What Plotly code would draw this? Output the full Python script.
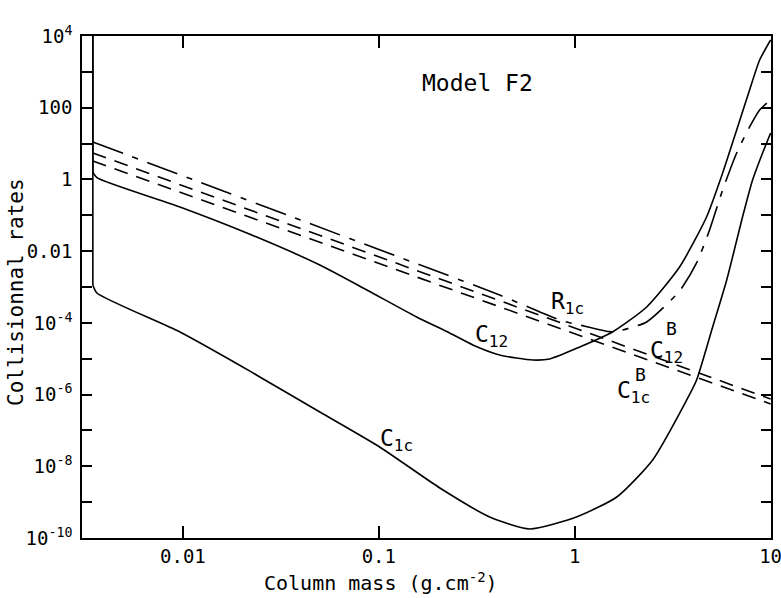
import plotly.graph_objects as go

# ---------------- data ----------------
# Column mass (g cm^-2) and collisional / radiative rates
x_c1c = [0.00347, 0.00347, 0.00364, 0.00966, 0.0202, 0.0247, 0.0500, 0.101, 0.205,
         0.368, 0.589, 1.02, 1.64, 2.50, 3.73, 4.19, 5.06, 5.97, 7.19, 8.09, 9.10, 10.0]
y_c1c = [1e4, 1.14e-3, 6.81e-4, 5.57e-5, 5.89e-6, 3.10e-6, 3.27e-7, 3.46e-8, 2.48e-9,
         3.86e-10, 1.79e-10, 3.86e-10, 1.39e-9, 1.50e-8, 7.06e-7, 2.55e-6, 7.67e-5,
         1.57e-3, 8.97e-2, 0.964, 5.46, 19.7]

x_c12 = [0.00347, 0.00347, 0.00364, 0.00966, 0.0212, 0.0500, 0.0869, 0.156, 0.230,
         0.302, 0.414, 0.611, 0.745, 1.06, 1.56, 2.33, 3.43, 4.71, 5.69, 6.71, 7.81,
         8.79, 10.0]
y_c12 = [1e4, 1.6, 1.12, 0.170, 0.0321, 4.11e-3, 8.26e-4, 1.46e-4, 5.22e-5, 2.42e-5,
         1.27e-5, 9.22e-6, 9.84e-6, 2.12e-5, 5.57e-5, 2.77e-4, 3.61e-3, 8.97e-2, 1.51,
         23.9, 312, 2.14e3, 7.74e3]

x_r1c = [0.00347, 0.0122, 0.0395, 0.128, 0.414, 0.838, 1.06, 1.56, 1.91, 2.33, 3.43,
         4.19, 4.88, 5.69, 6.71, 7.81, 8.79, 10.0]
y_r1c = [11.1, 0.838, 0.0748, 6.70e-3, 5.98e-4, 1.20e-4, 8.72e-5, 5.57e-5, 7.20e-5,
         1.06e-4, 7.74e-4, 4.68e-3, 3.89e-2, 0.508, 5.46, 29.0, 86.3, 164]

x_c12b = [0.00347, 0.0395, 0.414, 10.0]
y_c12b = [5.46, 0.0437, 4.1e-4, 7.5e-7]

x_c1cb = [0.00347, 0.0395, 0.414, 10.0]
y_c1cb = [3.27, 0.0277, 2.75e-4, 5.5e-7]

x_tickvals = [0.01, 0.1, 1, 10]
x_ticktext = ["0.01", "0.1", "1", "10"]
y_exponents = list(range(-10, 5))
y_labels = {4: "10<sup>4</sup>", 2: "100", 0: "1", -2: "0.01", -4: "10<sup>-4</sup>",
            -6: "10<sup>-6</sup>", -8: "10<sup>-8</sup>", -10: "10<sup>-10</sup>"}

# ---------------- figure ----------------
W, H = 781, 598
L, R, T, B = 82, 10, 36, 60
FONT = "DejaVu Sans Mono"

fig = go.Figure()
lw = 1.6
solid_lin = dict(color="black", width=lw)
solid_spl = dict(color="black", width=lw, shape="spline", smoothing=0.6)

# vertical starts of C1c and C12 (straight), then the smooth curves
fig.add_trace(go.Scatter(x=x_c1c[:2], y=y_c1c[:2], mode="lines", line=solid_lin))
fig.add_trace(go.Scatter(x=x_c1c[1:], y=y_c1c[1:], mode="lines", line=solid_spl))
fig.add_trace(go.Scatter(x=x_c12[:2], y=y_c12[:2], mode="lines", line=solid_lin))
fig.add_trace(go.Scatter(x=x_c12[1:], y=y_c12[1:], mode="lines", line=solid_spl))
fig.add_trace(go.Scatter(x=x_r1c, y=y_r1c, mode="lines",
                         line=dict(color="black", width=lw, dash="32px,10px,6px,10px",
                                   shape="spline", smoothing=0.6)))
fig.add_trace(go.Scatter(x=x_c12b, y=y_c12b, mode="lines",
                         line=dict(color="black", width=lw, dash="14px,9px")))
fig.add_trace(go.Scatter(x=x_c1cb, y=y_c1cb, mode="lines",
                         line=dict(color="black", width=lw, dash="14px,9px")))


def px2paper(px, py):
    return (px - L) / (W - L - R), (H - B - py) / (H - T - B)


def label(text, px, py, xanchor="left", size=23, angle=0):
    xp, yp = px2paper(px, py)
    fig.add_annotation(text=text, x=xp, y=yp, xref="paper", yref="paper",
                       xanchor=xanchor, yanchor="middle", showarrow=False,
                       textangle=angle, font=dict(family=FONT, size=size, color="black"))


label("Model F2", 477, 83, xanchor="center", size=23)
label("R<sub>1c</sub>", 549, 303)
label("C<sub>12</sub>", 473, 336)
label("C<sub>12</sub>", 648, 352)
label("B", 664, 329, size=18)
label("C<sub>1c</sub>", 615, 392)
label("B", 633, 374, size=18)
label("C<sub>1c</sub>", 378, 440)
label("Column mass (g.cm<sup>-2</sup>)", 381, 582, xanchor="center", size=20)
label("Collisionnal rates", 16, 292, xanchor="center", angle=-90, size=21)

axis_common = dict(showline=True, linecolor="black", linewidth=1.5, mirror="ticks",
                   ticks="inside", tickcolor="black", tickwidth=1.5,
                   showgrid=False, zeroline=False, automargin=False,
                   ticklabeloverflow="allow",
                   tickfont=dict(family=FONT, size=19, color="black"))

fig.update_xaxes(type="log", range=[-2.515, 1.002], tickvals=x_tickvals, ticktext=x_ticktext,
                 ticklen=12, **axis_common)
fig.update_yaxes(type="log", range=[-10, 4], tickvals=[10.0 ** e for e in y_exponents],
                 ticktext=[y_labels.get(e, "") for e in y_exponents], ticklen=10,
                 ticklabelstandoff=4, **axis_common)

fig.update_layout(width=W, height=H, margin=dict(l=L, r=R, t=T, b=B),
                  plot_bgcolor="white", paper_bgcolor="white", showlegend=False,
                  font=dict(family=FONT, size=20, color="black"))

fig.write_html("out.html")
